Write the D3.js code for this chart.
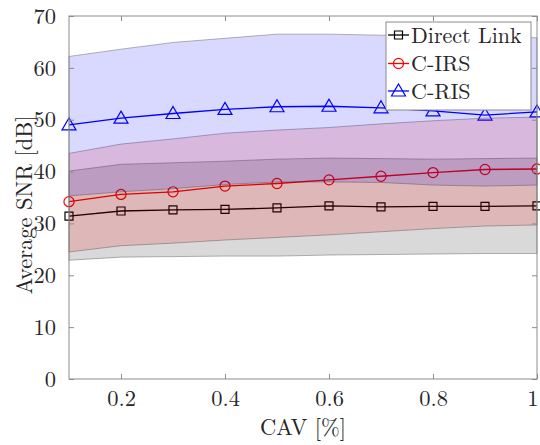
<!DOCTYPE html>
<html>
<head>
<meta charset="utf-8">
<script src="https://cdn.jsdelivr.net/npm/d3@7"></script>
<style>
  body { margin: 0; background: #fff; }
  svg { display: block; }
</style>
</head>
<body>
<svg id="chart" width="540" height="445"></svg>
<script>
// values
const cav = [0.1, 0.2, 0.3, 0.4, 0.5, 0.6, 0.7, 0.8, 0.9, 1.0];

const directMean = [31.4, 32.4, 32.6, 32.7, 33.0, 33.4, 33.2, 33.3, 33.3, 33.4];
const directLow  = [22.9, 23.5, 23.6, 23.7, 23.7, 23.9, 24.0, 24.1, 24.2, 24.2];
const directHigh = [40.1, 41.4, 41.7, 42.0, 42.4, 42.6, 42.5, 42.4, 42.5, 42.6];

const irsMean = [34.2, 35.6, 36.1, 37.2, 37.7, 38.4, 39.1, 39.8, 40.4, 40.5];
const irsLow  = [24.5, 25.7, 26.2, 26.8, 27.3, 27.8, 28.4, 29.0, 29.5, 29.7];
const irsHigh = [43.5, 45.3, 46.3, 47.4, 48.0, 48.5, 49.2, 49.8, 50.3, 50.5];

const risMean = [49.0, 50.3, 51.2, 52.0, 52.5, 52.6, 52.3, 51.7, 50.9, 51.5];
const risLow  = [35.3, 36.1, 36.7, 37.5, 38.0, 38.0, 37.9, 37.4, 37.2, 37.4];
const risHigh = [62.2, 63.6, 64.9, 65.7, 66.5, 66.5, 66.3, 66.0, 65.9, 65.8];

const xTicks = [0.2, 0.4, 0.6, 0.8, 1];
const yTicks = [0, 10, 20, 30, 40, 50, 60, 70];

const series = [
  { name: "Direct Link", color: "#000000", fill: "#000000", mean: directMean, low: directLow, high: directHigh, marker: "square" },
  { name: "C-IRS", color: "#ff0000", fill: "#ff0000", mean: irsMean, low: irsLow, high: irsHigh, marker: "circle" },
  { name: "C-RIS", color: "#0000ff", fill: "#0000ff", mean: risMean, low: risLow, high: risHigh, marker: "triangle" }
];

// latex look
const FONT = "'Latin Modern Roman', 'Liberation Serif', serif";
const svg = d3.select("#chart");
const mLeft = 69, mRight = 537, mTop = 16, mBottom = 379;

const x = d3.scaleLinear().domain([0.1, 1]).range([mLeft, mRight]);
const y = d3.scaleLinear().domain([0, 70]).range([mBottom, mTop]);

const axisColor = "#8c8c8c";
const textColor = "#262626";

// symbol generator per marker type
function markerPath(type) {
  if (type === "square") return d3.symbol(d3.symbolSquare, 64)();
  if (type === "circle") return d3.symbol(d3.symbolCircle, 80)();
  return "M0,-7L7,5L-7,5Z";
}

const plot = svg.append("g");

// lines first, the bands go over them (as in the original figure)
const line = d3.line().x((d, i) => x(cav[i])).y(d => y(d));

series.forEach(s => {
  plot.append("path")
    .datum(s.mean)
    .attr("d", line)
    .attr("fill", "none")
    .attr("stroke", s.color)
    .attr("stroke-width", 1.3);
  plot.selectAll(null)
    .data(s.mean)
    .join("path")
    .attr("transform", (d, i) => `translate(${x(cav[i])},${y(d)})`)
    .attr("d", markerPath(s.marker))
    .attr("fill", "none")
    .attr("stroke", s.color)
    .attr("stroke-width", 1.2);
});

const area = d3.area()
  .x((d, i) => x(cav[i]))
  .y0(d => y(d[0]))
  .y1(d => y(d[1]));

series.forEach(s => {
  const band = s.low.map((v, i) => [v, s.high[i]]);
  plot.append("path")
    .datum(band)
    .attr("d", area)
    .attr("fill", s.fill)
    .attr("fill-opacity", 0.15)
    .attr("stroke", "#333")
    .attr("stroke-opacity", 0.45)
    .attr("stroke-width", 0.8);
});

// axes box
svg.append("rect")
  .attr("x", mLeft).attr("y", mTop)
  .attr("width", mRight - mLeft).attr("height", mBottom - mTop)
  .attr("fill", "none")
  .attr("stroke", axisColor)
  .attr("stroke-width", 1);

const xAxis = d3.axisBottom(x).tickValues(xTicks).tickSizeInner(-5).tickSizeOuter(0)
  .tickPadding(11).tickFormat(d3.format("~g"));
const yAxis = d3.axisLeft(y).tickValues(yTicks).tickSizeInner(-5).tickSizeOuter(0)
  .tickPadding(13);

const gx = svg.append("g").attr("transform", `translate(0,${mBottom})`).call(xAxis);
const gy = svg.append("g").attr("transform", `translate(${mLeft},0)`).call(yAxis);
const gxTop = svg.append("g").attr("transform", `translate(0,${mTop})`)
  .call(d3.axisTop(x).tickValues(xTicks).tickSizeInner(-5).tickSizeOuter(0).tickFormat(""));
const gyRight = svg.append("g").attr("transform", `translate(${mRight},0)`)
  .call(d3.axisRight(y).tickValues(yTicks).tickSizeInner(-5).tickSizeOuter(0).tickFormat(""));

[gx, gy, gxTop, gyRight].forEach(g => {
  g.attr("font-family", FONT).attr("font-size", 22.5);
  g.select(".domain").remove();
  g.selectAll(".tick line").attr("stroke", axisColor);
  g.selectAll("text").attr("fill", textColor);
});
// last x label sits on the right edge, pull it in a little
gx.selectAll(".tick text").filter(d => d === 1).attr("text-anchor", "end").attr("dx", 1);

// axis titles
svg.append("text")
  .attr("x", 303).attr("y", 435)
  .attr("text-anchor", "middle")
  .attr("font-family", FONT).attr("font-size", 22.5)
  .attr("fill", textColor)
  .text("CAV [%]");

svg.append("text")
  .attr("transform", "translate(32,205) rotate(-90)")
  .attr("text-anchor", "middle")
  .attr("font-family", FONT).attr("font-size", 22.5)
  .attr("fill", textColor)
  .text("Average SNR [dB]");

// legend
const legend = svg.append("g");
legend.append("rect")
  .attr("x", 386).attr("y", 22)
  .attr("width", 145).attr("height", 88)
  .attr("fill", "#fff")
  .attr("stroke", axisColor)
  .attr("stroke-width", 1);

const rowY = [35, 63.5, 91];
series.forEach((s, i) => {
  const g = legend.append("g").attr("transform", `translate(0,${rowY[i]})`);
  g.append("line")
    .attr("x1", 388).attr("x2", 409)
    .attr("stroke", s.color).attr("stroke-width", 1.3);
  g.append("path")
    .attr("transform", "translate(398.5,0)")
    .attr("d", markerPath(s.marker))
    .attr("fill", "none")
    .attr("stroke", s.color)
    .attr("stroke-width", 1.2);
  g.append("text")
    .attr("x", 411).attr("y", 7.5)
    .attr("font-family", FONT).attr("font-size", 22)
    .attr("fill", textColor)
    .text(s.name);
});
</script>
</body>
</html>
